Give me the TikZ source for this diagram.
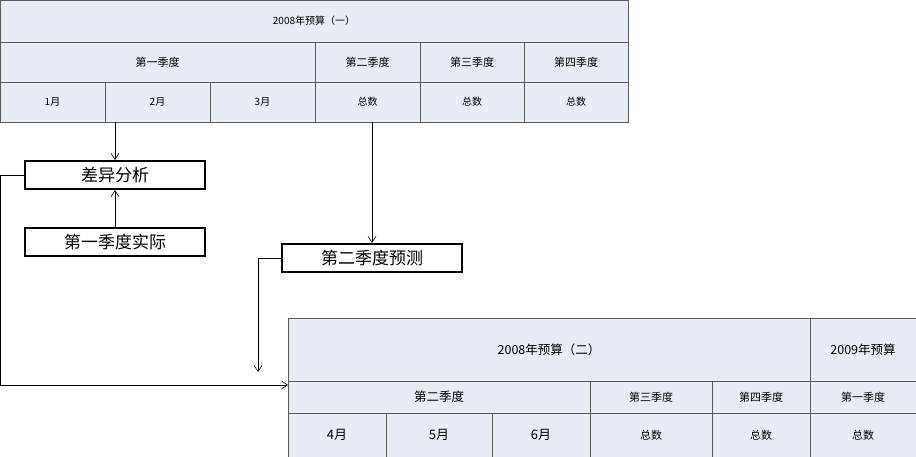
\documentclass[tikz,border=0pt]{standalone}
\usepackage{fontspec}
\setmainfont{Noto Sans CJK SC}
\usetikzlibrary{arrows.meta}
\definecolor{cellbg}{RGB}{232,236,244}
\definecolor{cellln}{RGB}{90,90,90}
\begin{document}
\begin{tikzpicture}[x=1pt,y=-1pt,
 cell/.style={draw=cellln,fill=cellbg,line width=0.8pt},
 bx/.style={draw,line width=2.2pt,minimum width=180pt,minimum height=28pt,inner sep=0pt,font=\fontsize{17}{17}\selectfont},
 arr/.style={-{Straight Barb[length=6pt,width=8pt]},line width=0.6pt},
 sm/.style={font=\fontsize{10}{10}\selectfont},
 md/.style={font=\fontsize{12.5}{13}\selectfont}]
\useasboundingbox (0,0) rectangle (916,457);
% top table
\draw[cell] (0,0) rectangle (628,42);
\node[sm] (t1) at (314,21) {2008年预算（一）};
\foreach \a/\b/\t [count=\i] in {0/315/第一季度,315/420/第二季度,420/524/第三季度,524/628/第四季度}
 {\draw[cell] (\a,42) rectangle (\b,82); \node[md,font=\fontsize{11}{11}\selectfont] (q\i) at ({(\a+\b)/2},62) {\t};}
\foreach \a/\b/\t [count=\i] in {0/105/1月,105/210/2月,210/315/3月,315/420/总数,420/524/总数,524/628/总数}
 {\draw[cell] (\a,82) rectangle (\b,122); \node[sm] (m\i) at ({(\a+\b)/2},102) {\t};}
\coordinate (m2b) at (115,122);
\coordinate (m4b) at (372,122);
% boxes
\node[bx] (diff) at (115,175) {差异分析};
\node[bx] (act) at (115,242) {第一季度实际};
\node[bx] (fc) at (372,258) {第二季度预测};
% bottom table
\draw[cell] (288,318) rectangle (810,381);
\draw[cell] (810,318) rectangle (916,381);
\node[md] (b1) at (549,350) {2008年预算（二）};
\node[md] (b2) at (863,350) {2009年预算};
\foreach \a/\b/\t [count=\i] in {288/590/第二季度,590/712/第三季度,712/810/第四季度,810/916/第一季度}
 {\draw[cell] (\a,381) rectangle (\b,413); \node[font=\fontsize{\ifnum\i=1 12.5\else 11\fi}{12}\selectfont] (r\i) at ({(\a+\b)/2},397) {\t};}
\foreach \a/\b/\t [count=\i] in {288/386/4月,386/492/5月,492/590/6月,590/712/总数,712/810/总数,810/916/总数}
 {\draw[cell] (\a,413) rectangle (\b,457); \node[font=\fontsize{\ifnum\i<4 13\else 11\fi}{12}\selectfont] (n\i) at ({(\a+\b)/2},435) {\t};}
\coordinate (bin) at (288,385);
\coordinate (fcend) at (258,372);
% connectors
\draw[arr] (m2b) -- (diff.north);
\draw[arr] (act.north) -- (diff.south);
\draw[arr] (m4b) -- (fc.north);
\draw[arr] (diff.west) -- (0,175) -- (0,385) -- (bin);
\draw[arr] (fc.west) -- (258,258) -- (fcend);
\end{tikzpicture}
\end{document}
